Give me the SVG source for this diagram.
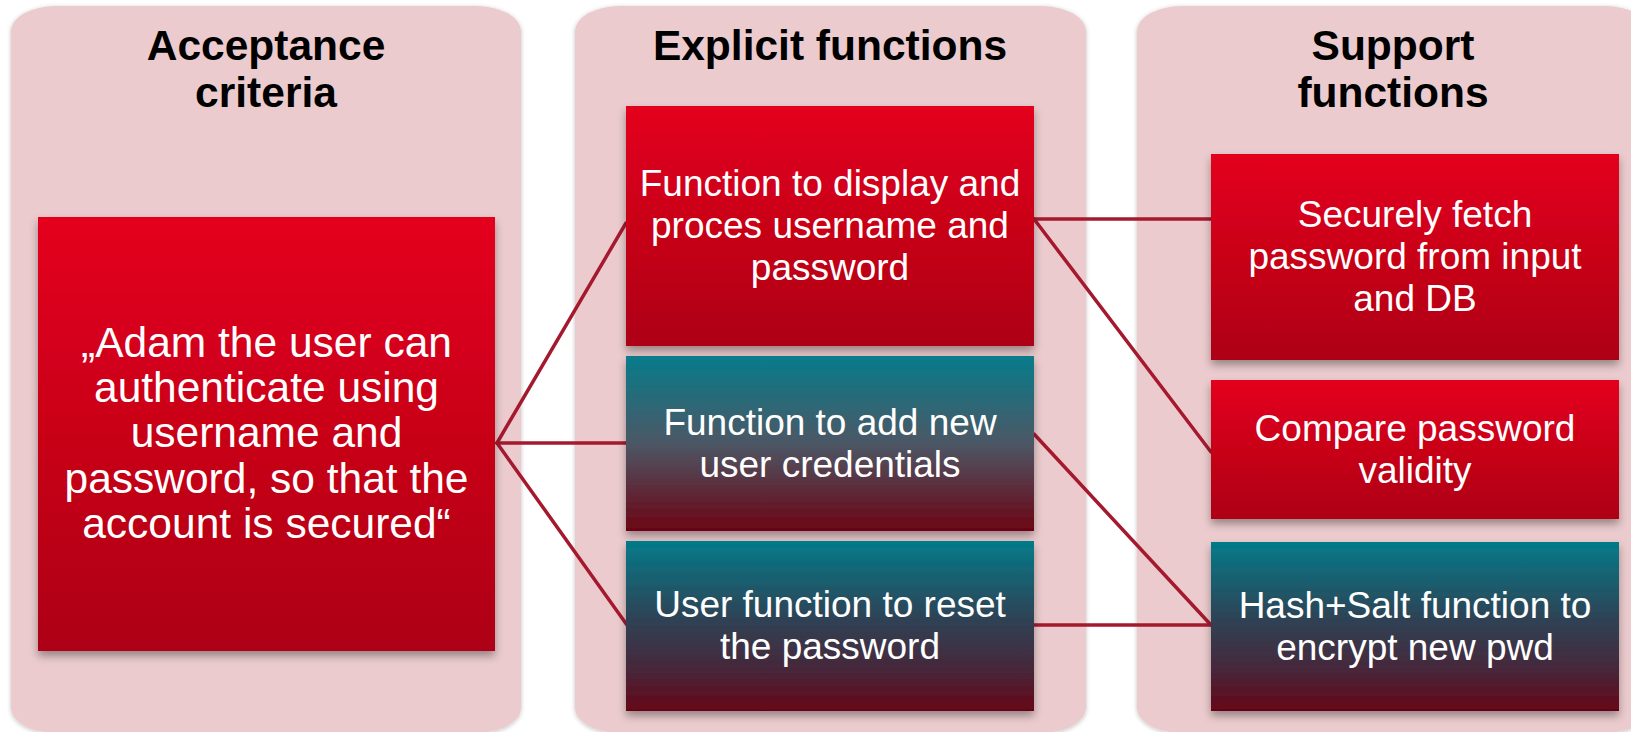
<svg xmlns="http://www.w3.org/2000/svg" width="1631" height="732" viewBox="0 0 1631 732">
  <defs>
    <linearGradient id="gRed" x1="0" y1="0" x2="0" y2="1">
      <stop offset="0" stop-color="#e4001d"/>
      <stop offset="1" stop-color="#ad0014"/>
    </linearGradient>
    <linearGradient id="gTeal1" x1="0" y1="0" x2="0" y2="1">
      <stop offset="0" stop-color="#067c8b"/>
      <stop offset="0.5" stop-color="#4c5765"/>
      <stop offset="1" stop-color="#6c0414"/>
    </linearGradient>
    <linearGradient id="gTeal2" x1="0" y1="0" x2="0" y2="1">
      <stop offset="0" stop-color="#037b8a"/>
      <stop offset="0.45" stop-color="#2e4356"/>
      <stop offset="0.75" stop-color="#46283b"/>
      <stop offset="1" stop-color="#660518"/>
    </linearGradient>
    <filter id="panelShadow" x="-5%" y="-5%" width="110%" height="110%">
      <feDropShadow dx="0" dy="1" stdDeviation="2" flood-color="#000" flood-opacity="0.25"/>
    </filter>
    <filter id="boxShadow" x="-5%" y="-5%" width="110%" height="115%">
      <feDropShadow dx="0" dy="5" stdDeviation="4" flood-color="#000" flood-opacity="0.35"/>
    </filter>
  </defs>
  <style>
    .panel { fill: #ebcbcd; filter: url(#panelShadow); }
    .title { font-family: "Liberation Sans", Arial, sans-serif; font-weight: bold; font-size: 42.5px; fill: #000; text-anchor: middle; }
    .box { filter: url(#boxShadow); }
    .txt { font-family: "Liberation Sans", Arial, sans-serif; font-size: 37px; fill: #fff; text-anchor: middle; }
    .txtL { font-family: "Liberation Sans", Arial, sans-serif; font-size: 42.5px; fill: #fff; text-anchor: middle; }
    .conn { stroke: #a5192e; stroke-width: 3.5; fill: none; stroke-linecap: round; }
  </style>

  <g id="panel-acceptance">
    <path class="panel" d="M56 6 H476 A45 25 0 0 1 521 31 V708 A45 25 0 0 1 476 733 H56 A45 25 0 0 1 11 708 V31 A45 25 0 0 1 56 6 Z"/>
    <text class="title" x="266" y="60">Acceptance</text>
    <text class="title" x="266" y="107">criteria</text>
  </g>
  <g id="panel-explicit">
    <path class="panel" d="M620 6 H1041 A45 25 0 0 1 1086 31 V708 A45 25 0 0 1 1041 733 H620 A45 25 0 0 1 575 708 V31 A45 25 0 0 1 620 6 Z"/>
    <text class="title" x="830" y="60">Explicit functions</text>
  </g>
  <g id="panel-support">
    <path class="panel" d="M1182 6 H1605 A45 25 0 0 1 1650 31 V708 A45 25 0 0 1 1605 733 H1182 A45 25 0 0 1 1137 708 V31 A45 25 0 0 1 1182 6 Z"/>
    <text class="title" x="1393" y="60">Support</text>
    <text class="title" x="1393" y="107">functions</text>
  </g>

  <g id="connectors">
    <line class="conn" x1="497" y1="443" x2="626" y2="223"/>
    <line class="conn" x1="497" y1="443" x2="626" y2="443"/>
    <line class="conn" x1="497" y1="443" x2="627" y2="625"/>
    <line class="conn" x1="1034" y1="219" x2="1211" y2="219"/>
    <line class="conn" x1="1034" y1="219" x2="1211" y2="452"/>
    <line class="conn" x1="1034" y1="434" x2="1211" y2="625"/>
    <line class="conn" x1="1034" y1="625" x2="1211" y2="625"/>
  </g>

  <g id="node-acceptance">
    <rect class="box" x="38" y="217" width="457" height="434" fill="url(#gRed)"/>
    <text class="txtL" x="266.5" y="356.5">„Adam the user can</text>
    <text class="txtL" x="266.5" y="401.5">authenticate using</text>
    <text class="txtL" x="266.5" y="447">username and</text>
    <text class="txtL" x="266.5" y="492.5">password, so that the</text>
    <text class="txtL" x="266.5" y="538">account is secured“</text>
  </g>

  <g id="node-display">
    <rect class="box" x="626" y="106" width="408" height="240" fill="url(#gRed)"/>
    <text class="txt" x="830" y="196">Function to display and</text>
    <text class="txt" x="830" y="238">proces username and</text>
    <text class="txt" x="830" y="280">password</text>
  </g>
  <g id="node-add">
    <rect class="box" x="626" y="356" width="408" height="175" fill="url(#gTeal1)"/>
    <text class="txt" x="830" y="435">Function to add new</text>
    <text class="txt" x="830" y="477">user credentials</text>
  </g>
  <g id="node-reset">
    <rect class="box" x="626" y="541" width="408" height="170" fill="url(#gTeal2)"/>
    <text class="txt" x="830" y="617">User function to reset</text>
    <text class="txt" x="830" y="659">the password</text>
  </g>

  <g id="node-fetch">
    <rect class="box" x="1211" y="154" width="408" height="206" fill="url(#gRed)"/>
    <text class="txt" x="1415" y="227">Securely fetch</text>
    <text class="txt" x="1415" y="269">password from input</text>
    <text class="txt" x="1415" y="311">and DB</text>
  </g>
  <g id="node-compare">
    <rect class="box" x="1211" y="380" width="408" height="139" fill="url(#gRed)"/>
    <text class="txt" x="1415" y="441">Compare password</text>
    <text class="txt" x="1415" y="483">validity</text>
  </g>
  <g id="node-hash">
    <rect class="box" x="1211" y="542" width="408" height="169" fill="url(#gTeal2)"/>
    <text class="txt" x="1415" y="618">Hash+Salt function to</text>
    <text class="txt" x="1415" y="660">encrypt new pwd</text>
  </g>
</svg>
